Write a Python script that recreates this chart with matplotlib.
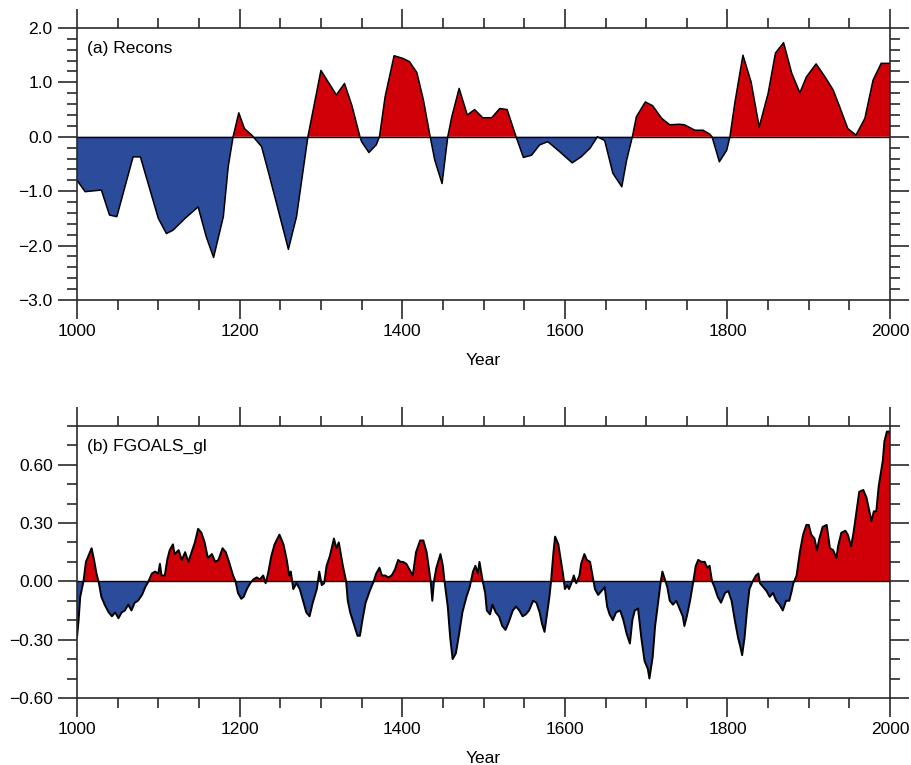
import matplotlib
matplotlib.use("Agg")
import matplotlib.pyplot as plt
import numpy as np
from matplotlib.ticker import MultipleLocator, FuncFormatter

# ------------------------------------------------------------------
# (a) Recons - reconstruction
# ------------------------------------------------------------------
recons_years = [1000, 1010, 1030, 1040, 1049, 1069, 1078, 1100, 1110, 1118,
                1133, 1149, 1159, 1168, 1180, 1186, 1192, 1199, 1206, 1215,
                1227, 1237, 1260, 1270, 1284, 1300, 1319, 1329, 1338, 1348,
                1350, 1359, 1368, 1372, 1379, 1390, 1401, 1409, 1418, 1426,
                1434, 1440, 1449, 1456, 1461, 1470, 1480, 1489, 1499, 1510,
                1520, 1529, 1540, 1549, 1559, 1569, 1579, 1594, 1609, 1620,
                1631, 1640, 1649, 1659, 1670, 1676, 1683, 1688, 1699, 1708,
                1719, 1729, 1741, 1747, 1760, 1770, 1778, 1781, 1790, 1799,
                1803, 1809, 1819, 1829, 1839, 1850, 1859, 1869, 1879, 1889,
                1897, 1909, 1920, 1930, 1938, 1948, 1958, 1969, 1979, 1989,
                1997, 2000]
recons_vals = [-0.80, -1.01, -0.98, -1.44, -1.47, -0.37, -0.37, -1.50, -1.78, -1.72,
               -1.50, -1.29, -1.84, -2.22, -1.47, -0.55, 0.00, 0.44, 0.15, 0.03,
               -0.18, -0.74, -2.07, -1.47, 0.00, 1.22, 0.77, 0.98, 0.58, 0.00,
               -0.09, -0.29, -0.15, 0.00, 0.74, 1.49, 1.44, 1.38, 1.18, 0.68,
               0.03, -0.43, -0.86, 0.00, 0.37, 0.89, 0.40, 0.50, 0.35, 0.35,
               0.52, 0.50, 0.00, -0.38, -0.34, -0.15, -0.09, -0.28, -0.48, -0.37,
               -0.21, 0.00, -0.07, -0.67, -0.92, -0.43, 0.00, 0.37, 0.64, 0.57,
               0.34, 0.22, 0.23, 0.22, 0.12, 0.12, 0.05, 0.00, -0.46, -0.25,
               0.00, 0.62, 1.50, 1.01, 0.18, 0.80, 1.54, 1.73, 1.17, 0.81,
               1.10, 1.34, 1.10, 0.86, 0.55, 0.15, 0.03, 0.34, 1.04, 1.35,
               1.35, 1.35]

# ------------------------------------------------------------------
# (b) FGOALS_gl - model run
# ------------------------------------------------------------------
fgoals_years = [1000, 1002, 1004, 1008, 1011, 1014, 1018, 1021, 1024, 1027,
                1030, 1034, 1039, 1043, 1047, 1051, 1055, 1059, 1063, 1067,
                1071, 1075, 1080, 1084, 1088, 1092, 1096, 1100, 1102, 1104,
                1108, 1111, 1114, 1118, 1120, 1125, 1129, 1133, 1137, 1141,
                1145, 1149, 1153, 1157, 1161, 1166, 1170, 1174, 1179, 1183,
                1187, 1192, 1195, 1198, 1202, 1205, 1209, 1213, 1217, 1221,
                1225, 1229, 1232, 1235, 1239, 1243, 1249, 1254, 1258, 1261,
                1263, 1266, 1270, 1274, 1278, 1282, 1286, 1290, 1295, 1298,
                1301, 1304, 1307, 1311, 1316, 1319, 1322, 1327, 1331, 1333,
                1336, 1339, 1342, 1345, 1348, 1351, 1355, 1360, 1364, 1368,
                1372, 1375, 1379, 1383, 1387, 1391, 1395, 1398, 1401, 1405,
                1409, 1413, 1417, 1422, 1426, 1430, 1433, 1435, 1437, 1439,
                1442, 1447, 1450, 1452, 1456, 1459, 1462, 1466, 1470, 1474,
                1479, 1483, 1487, 1490, 1493, 1495, 1499, 1502, 1504, 1508,
                1511, 1515, 1519, 1523, 1527, 1531, 1536, 1540, 1544, 1548,
                1552, 1556, 1561, 1565, 1569, 1572, 1575, 1578, 1581, 1583,
                1586, 1588, 1592, 1595, 1598, 1600, 1603, 1605, 1608, 1611,
                1614, 1618, 1620, 1624, 1627, 1631, 1634, 1637, 1641, 1645,
                1649, 1652, 1655, 1659, 1663, 1668, 1672, 1676, 1680, 1683,
                1686, 1690, 1694, 1698, 1702, 1704, 1708, 1711, 1715, 1718,
                1720, 1723, 1726, 1729, 1733, 1737, 1741, 1745, 1747, 1750,
                1754, 1758, 1761, 1764, 1768, 1772, 1775, 1778, 1781, 1784,
                1788, 1792, 1797, 1801, 1805, 1809, 1813, 1816, 1818, 1821,
                1824, 1827, 1831, 1835, 1838, 1840, 1844, 1848, 1852, 1856,
                1860, 1864, 1868, 1872, 1876, 1879, 1881, 1885, 1889, 1893,
                1897, 1900, 1903, 1907, 1910, 1913, 1917, 1922, 1924, 1926,
                1930, 1934, 1936, 1940, 1945, 1948, 1952, 1955, 1958, 1962,
                1967, 1971, 1974, 1977, 1980, 1983, 1986, 1989, 1991, 1993,
                1996, 1999, 2000]
fgoals_vals = [-0.29, -0.20, -0.08, 0.00, 0.10, 0.13, 0.17, 0.11, 0.04, -0.01,
               -0.08, -0.12, -0.16, -0.18, -0.16, -0.19, -0.16, -0.15, -0.12, -0.15,
               -0.11, -0.10, -0.07, -0.03, 0.00, 0.04, 0.05, 0.04, 0.09, 0.03,
               0.03, 0.11, 0.16, 0.19, 0.14, 0.16, 0.11, 0.15, 0.10, 0.15,
               0.20, 0.27, 0.25, 0.20, 0.12, 0.14, 0.10, 0.11, 0.17, 0.15,
               0.10, 0.03, 0.00, -0.06, -0.09, -0.08, -0.04, -0.01, 0.01, 0.02,
               0.01, 0.03, -0.01, 0.04, 0.13, 0.19, 0.24, 0.19, 0.11, 0.03,
               0.05, -0.04, -0.01, -0.04, -0.10, -0.16, -0.18, -0.11, -0.04, 0.05,
               -0.02, -0.01, 0.08, 0.13, 0.22, 0.17, 0.20, 0.08, 0.00, -0.10,
               -0.16, -0.20, -0.24, -0.28, -0.28, -0.20, -0.11, -0.05, -0.01, 0.04,
               0.07, 0.03, 0.03, 0.02, 0.03, 0.06, 0.11, 0.10, 0.10, 0.09,
               0.06, 0.03, 0.15, 0.21, 0.21, 0.15, 0.06, 0.00, -0.10, 0.00,
               0.07, 0.14, 0.08, 0.00, -0.13, -0.29, -0.40, -0.37, -0.27, -0.16,
               -0.08, -0.03, 0.05, 0.08, 0.04, 0.10, 0.00, -0.06, -0.15, -0.17,
               -0.12, -0.16, -0.18, -0.23, -0.25, -0.21, -0.15, -0.13, -0.15, -0.18,
               -0.17, -0.15, -0.10, -0.11, -0.16, -0.22, -0.26, -0.17, -0.08, 0.00,
               0.15, 0.23, 0.19, 0.11, 0.03, -0.04, -0.02, -0.04, -0.01, 0.03,
               -0.01, 0.03, 0.09, 0.14, 0.11, 0.10, 0.03, -0.04, -0.07, -0.05,
               -0.03, -0.13, -0.17, -0.20, -0.16, -0.15, -0.20, -0.27, -0.32, -0.20,
               -0.15, -0.14, -0.29, -0.41, -0.45, -0.50, -0.39, -0.23, -0.10, 0.00,
               0.05, 0.01, -0.03, -0.10, -0.12, -0.10, -0.14, -0.18, -0.23, -0.18,
               -0.10, 0.00, 0.08, 0.11, 0.10, 0.10, 0.07, 0.08, 0.00, -0.03,
               -0.08, -0.11, -0.06, -0.05, -0.10, -0.20, -0.29, -0.34, -0.38, -0.29,
               -0.15, -0.04, 0.00, 0.03, 0.04, -0.01, -0.03, -0.05, -0.08, -0.06,
               -0.10, -0.12, -0.15, -0.10, -0.10, -0.05, -0.01, 0.03, 0.15, 0.24,
               0.29, 0.29, 0.24, 0.22, 0.16, 0.22, 0.28, 0.29, 0.23, 0.17,
               0.16, 0.12, 0.18, 0.25, 0.26, 0.24, 0.18, 0.25, 0.34, 0.46,
               0.47, 0.43, 0.37, 0.31, 0.36, 0.36, 0.49, 0.57, 0.62, 0.72,
               0.77, 0.77, 0.75]

RED = "#cf0008"
BLUE = "#2b4b9b"

plt.rcParams["font.family"] = ["Liberation Sans", "DejaVu Sans"]
plt.rcParams["font.size"] = 12.5


def minus_fmt(decimals):
    # подписи с "настоящим" минусом, как в оригинале
    return FuncFormatter(lambda v, p: f"{v:.{decimals}f}".replace("-", "\u2212"))


def draw_panel(ax, years, vals, title, ylim, ymajor, yminor, ydec, lw):
    x = np.array(years, dtype=float)
    y = np.array(vals, dtype=float)
    ax.fill_between(x, y, 0, where=y >= 0, interpolate=True, color=RED, lw=0)
    ax.fill_between(x, y, 0, where=y <= 0, interpolate=True, color=BLUE, lw=0)
    ax.plot(x, y, color="black", lw=lw)
    ax.axhline(0, color="black", lw=1.0)

    ax.set_xlim(1000, 2000)
    ax.set_ylim(*ylim)
    ax.xaxis.set_major_locator(MultipleLocator(200))
    ax.xaxis.set_minor_locator(MultipleLocator(50))
    ax.yaxis.set_major_locator(MultipleLocator(ymajor))
    ax.yaxis.set_minor_locator(MultipleLocator(yminor))
    ax.yaxis.set_major_formatter(minus_fmt(ydec))

    ax.tick_params(which="both", direction="out", top=True, right=True,
                   width=1.2, color="#2a2a2a", labelsize=12.5)
    ax.tick_params(which="major", length=13.5, pad=4)
    ax.tick_params(which="minor", length=7)
    for s in ax.spines.values():
        s.set_linewidth(1.2)
        s.set_color("#2a2a2a")

    ax.set_xlabel("Year", fontsize=12.5, labelpad=10)
    ax.text(0.012, 0.925, title, transform=ax.transAxes,
            ha="left", va="center", fontsize=12.5)


fig = plt.figure(figsize=(9.12, 7.65), dpi=100)
ax1 = fig.add_axes([0.0844, 0.608, 0.8916, 0.3554])
ax2 = fig.add_axes([0.0844, 0.0876, 0.8916, 0.3559])

draw_panel(ax1, recons_years, recons_vals, "(a) Recons", (-3.0, 2.0), 1.0, 0.2, 1, 1.1)
draw_panel(ax2, fgoals_years, fgoals_vals, "(b) FGOALS_gl", (-0.6, 0.8), 0.3, 0.1, 2, 1.4)

fig.savefig("out.png", dpi=100)
